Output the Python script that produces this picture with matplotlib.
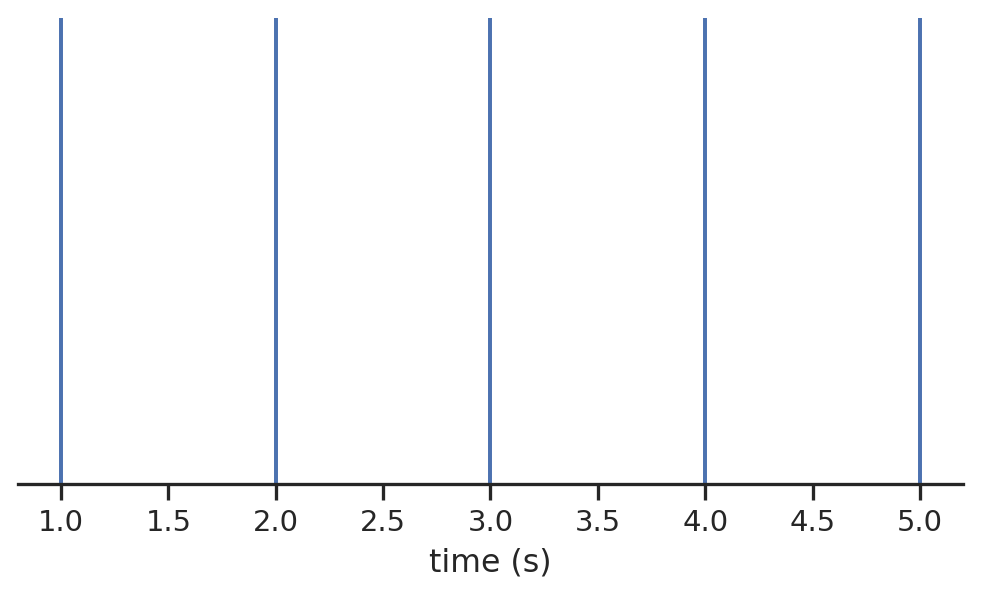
import matplotlib
matplotlib.use("Agg")
import matplotlib.pyplot as plt
import seaborn as sns

# spike times in seconds
spike_times = [1.0, 2.0, 3.0, 4.0, 5.0]

sns.set_theme(context="notebook", style="ticks")

dpi = 190
fig, ax = plt.subplots(figsize=(982 / dpi, 598 / dpi), dpi=dpi)
ax.eventplot(spike_times, color="#4c72b0", linewidths=1.5)
ax.set_ylim(0.5, 1.5)
ax.set_yticks([])
ax.set_xlabel("time (s)")
sns.despine(ax=ax, left=True)

fig.subplots_adjust(left=18 / 982, right=963 / 982, top=1 - 18 / 598, bottom=1 - 484 / 598)
fig.savefig("out.png", dpi=dpi)
